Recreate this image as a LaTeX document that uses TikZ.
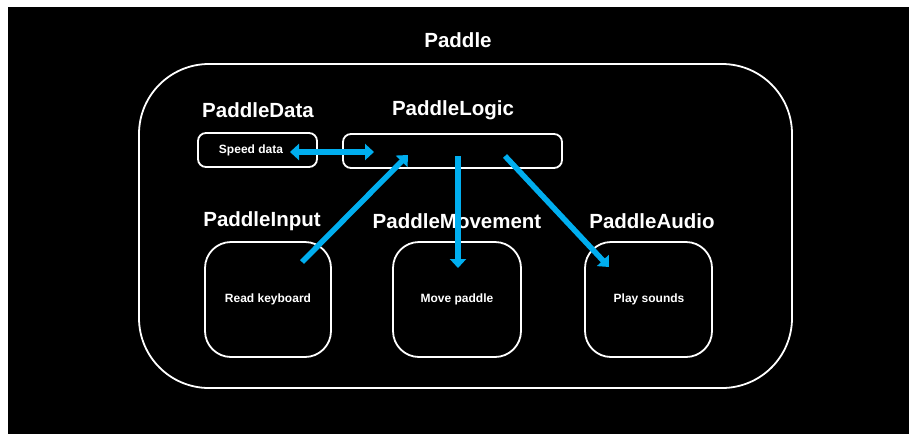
\documentclass[tikz,border=0pt]{standalone}
\usepackage{fontspec}
\setmainfont{Liberation Sans}
\usetikzlibrary{arrows.meta}
\definecolor{arrowblue}{HTML}{00AEEF}
\tikzset{
  title/.style={text=white,font=\bfseries\fontsize{20.5}{22}\selectfont,inner sep=0pt},
  small/.style={text=white,font=\bfseries\fontsize{12}{14}\selectfont},
  box/.style={draw=white,line width=1.8pt,rounded corners=#1},
  link/.style={draw=arrowblue,line width=5.5pt,-{Triangle[length=9pt,width=16pt]}},
  dlink/.style={draw=arrowblue,line width=5.5pt,{Triangle[length=9pt,width=16pt]}-{Triangle[length=9pt,width=16pt]}},
}
\begin{document}
\begin{tikzpicture}[x=1pt,y=-1pt]
\useasboundingbox (0,0) rectangle (909,434);
\fill[white] (0,0) rectangle (909,434);
\fill[black] (8,7) rectangle (909,434);
% outer container
\draw[box=70pt] (139,64) rectangle (792,388);
\node[title] (paddle) at (458,40) {Paddle};
% top row
\node[title] (datalbl) at (258,110) {PaddleData};
\node[title] (logiclbl) at (453,110) {PaddleLogic};
\draw[box=8pt] (198,133) rectangle (317,167);
\node[small] (speed) at (251,150) {Speed data};
\draw[box=8pt] (343,134) rectangle (562,168);
\coordinate (logicL) at (374,152);
\coordinate (dataR) at (290,152);
% bottom row labels
\node[title] (inputlbl) at (262,221) {PaddleInput};
\node[title] (movelbl) at (457,221) {PaddleMovement};
\node[title] (audiolbl) at (652,221) {PaddleAudio};
% bottom boxes
\draw[box=26pt] (205,242) rectangle (331,357);
\node[small] (readkb) at (268,299) {Read keyboard};
\draw[box=26pt] (393,242) rectangle (521,357);
\node[small] (movep) at (457,299) {Move paddle};
\draw[box=26pt] (585,242) rectangle (712,357);
\node[small] (plays) at (649,299) {Play sounds};
% arrow endpoints
\coordinate (inS) at (302,262);
\coordinate (inE) at (408,155);
\coordinate (mvS) at (458,156);
\coordinate (mvE) at (458,268);
\coordinate (auS) at (505,156);
\coordinate (auE) at (609,267);
\draw[dlink] (dataR) -- (logicL);
\draw[link] (inS) -- (inE);
\draw[link] (mvS) -- (mvE);
\draw[link] (auS) -- (auE);
\end{tikzpicture}
\end{document}
